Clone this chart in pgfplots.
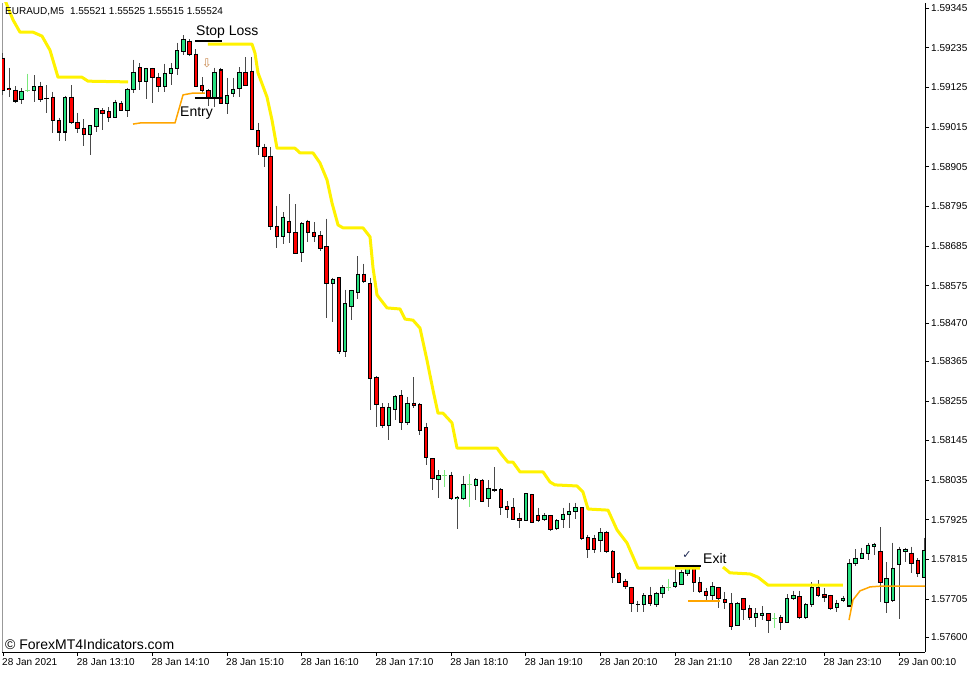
\documentclass[border=0pt]{standalone}
\usepackage{fontspec}
\setmainfont{Liberation Sans}
\newfontfamily\symfont{DejaVu Sans}
\usepackage{pgfplots}
\pgfplotsset{compat=1.18}
\usepackage{pgfplotstable}

\definecolor{bull}{HTML}{26E07F}
\definecolor{bear}{HTML}{FF0000}
\definecolor{doji}{HTML}{7CE87C}
\definecolor{wick}{HTML}{4A4A4A}
\definecolor{ylw}{HTML}{FFF200}
\definecolor{org}{HTML}{FFA500}
\definecolor{arrowc}{HTML}{C8864A}
\definecolor{checkc}{HTML}{1A2550}

\pgfplotsset{candle/.style={only marks, mark options={draw=none, fill=none, mark size=0pt},
  error bars/.cd, y dir=both, y explicit, error mark=none}}

% x = bar index (M5 bars from 28 Jan 12:10), o h l c
\pgfplotstableread{
x o h l c
3 1.59090 1.59123 1.59079 1.59112
5 1.59115 1.59159 1.59084 1.59126
10 1.59001 1.59101 1.58976 1.59098
14 1.58993 1.59020 1.58937 1.59018
15 1.59015 1.59067 1.59001 1.59065
18 1.59042 1.59090 1.59040 1.59084
20 1.59062 1.59123 1.59042 1.59120
21 1.59120 1.59201 1.59109 1.59167
23 1.59142 1.59179 1.59092 1.59176
26 1.59128 1.59190 1.59112 1.59162
27 1.59162 1.59192 1.59131 1.59176
28 1.59176 1.59248 1.59159 1.59226
29 1.59223 1.59270 1.59214 1.59259
34 1.59098 1.59179 1.59070 1.59167
36 1.59079 1.59151 1.59051 1.59101
37 1.59109 1.59151 1.59098 1.59120
38 1.59123 1.59181 1.59098 1.59167
45 1.58712 1.58779 1.58690 1.58765
48 1.58668 1.58751 1.58640 1.58748
53 1.58582 1.58596 1.58474 1.58593
55 1.58391 1.58563 1.58377 1.58524
56 1.58518 1.58563 1.58479 1.58560
57 1.58557 1.58657 1.58538 1.58607
62 1.58188 1.58249 1.58147 1.58238
63 1.58232 1.58271 1.58202 1.58266
65 1.58196 1.58266 1.58188 1.58249
70 1.58038 1.58063 1.57985 1.58047
73 1.57983 1.57990 1.57899 1.57988
74 1.57985 1.58047 1.57980 1.58024
76 1.58019 1.58041 1.57980 1.58038
78 1.57985 1.58035 1.57960 1.58013
84 1.57924 1.57999 1.57922 1.57997
87 1.57927 1.57944 1.57922 1.57936
89 1.57902 1.57927 1.57897 1.57922
90 1.57927 1.57958 1.57902 1.57941
91 1.57941 1.57972 1.57902 1.57947
92 1.57947 1.57972 1.57927 1.57958
96 1.57869 1.57902 1.57836 1.57891
103 1.57689 1.57722 1.57669 1.57714
105 1.57689 1.57725 1.57683 1.57722
106 1.57722 1.57744 1.57708 1.57736
108 1.57739 1.57794 1.57736 1.57750
109 1.57747 1.57786 1.57744 1.57778
110 1.57775 1.57797 1.57769 1.57794
114 1.57714 1.57752 1.57700 1.57739
118 1.57633 1.57697 1.57630 1.57694
121 1.57653 1.57680 1.57628 1.57666
122 1.57661 1.57686 1.57647 1.57666
126 1.57641 1.57719 1.57639 1.57706
127 1.57706 1.57728 1.57703 1.57714
129 1.57653 1.57694 1.57650 1.57691
130 1.57691 1.57752 1.57683 1.57736
134 1.57683 1.57703 1.57669 1.57694
135 1.57700 1.57714 1.57697 1.57708
136 1.57686 1.57816 1.57683 1.57805
137 1.57805 1.57844 1.57797 1.57819
138 1.57819 1.57847 1.57816 1.57833
139 1.57833 1.57861 1.57813 1.57855
140 1.57852 1.57861 1.57827 1.57858
142 1.57697 1.57808 1.57666 1.57761
143 1.57700 1.57861 1.57697 1.57791
144 1.57800 1.57850 1.57650 1.57844
145 1.57836 1.57847 1.57808 1.57844
148 1.57766 1.57875 1.57764 1.57841
}\bull

\pgfplotstableread{
x o h l c
0 1.59206 1.59220 1.59104 1.59117
1 1.59123 1.59179 1.59098 1.59120
2 1.59117 1.59128 1.59081 1.59087
6 1.59126 1.59140 1.59084 1.59090
7 1.59095 1.59131 1.59054 1.59094
8 1.59098 1.59112 1.58998 1.59034
9 1.59034 1.59040 1.58976 1.59001
11 1.59098 1.59131 1.59024 1.59026
12 1.59026 1.59054 1.58998 1.59012
13 1.59012 1.59037 1.58962 1.58993
16 1.59062 1.59067 1.59006 1.59051
17 1.59059 1.59070 1.59029 1.59042
19 1.59081 1.59087 1.59059 1.59062
22 1.59179 1.59192 1.59117 1.59140
24 1.59176 1.59179 1.59081 1.59153
25 1.59151 1.59165 1.59112 1.59128
30 1.59253 1.59259 1.59212 1.59217
31 1.59217 1.59231 1.59126 1.59128
32 1.59131 1.59153 1.59109 1.59115
33 1.59115 1.59120 1.59073 1.59098
35 1.59173 1.59179 1.59079 1.59081
39 1.59167 1.59209 1.59129 1.59131
40 1.59170 1.59209 1.59006 1.59009
41 1.59004 1.59026 1.58937 1.58962
42 1.58959 1.58968 1.58904 1.58934
43 1.58934 1.58959 1.58729 1.58740
44 1.58740 1.58796 1.58679 1.58710
46 1.58754 1.58829 1.58693 1.58721
47 1.58723 1.58801 1.58663 1.58665
49 1.58754 1.58757 1.58696 1.58723
50 1.58723 1.58751 1.58696 1.58712
51 1.58715 1.58726 1.58671 1.58679
52 1.58682 1.58760 1.58485 1.58582
54 1.58596 1.58598 1.58385 1.58391
58 1.58607 1.58635 1.58583 1.58585
59 1.58582 1.58596 1.58230 1.58316
60 1.58321 1.58323 1.58182 1.58244
61 1.58238 1.58249 1.58180 1.58188
64 1.58271 1.58285 1.58174 1.58196
66 1.58249 1.58321 1.58235 1.58241
67 1.58244 1.58249 1.58160 1.58174
68 1.58180 1.58194 1.58077 1.58099
69 1.58094 1.58096 1.58008 1.58041
72 1.58047 1.58058 1.57980 1.57983
77 1.58035 1.58038 1.57974 1.57977
79 1.58008 1.58071 1.58002 1.58006
80 1.58008 1.58013 1.57938 1.57960
81 1.57963 1.57977 1.57930 1.57955
82 1.57958 1.57985 1.57924 1.57927
83 1.57930 1.57944 1.57902 1.57924
85 1.57994 1.57997 1.57917 1.57919
86 1.57938 1.57958 1.57919 1.57922
88 1.57936 1.57938 1.57894 1.57897
93 1.57958 1.57960 1.57869 1.57872
94 1.57875 1.57883 1.57819 1.57844
95 1.57872 1.57883 1.57833 1.57844
97 1.57891 1.57894 1.57833 1.57836
98 1.57838 1.57841 1.57750 1.57766
99 1.57775 1.57780 1.57750 1.57752
100 1.57755 1.57761 1.57733 1.57739
101 1.57736 1.57739 1.57669 1.57694
102 1.57691 1.57700 1.57669 1.57690
104 1.57714 1.57739 1.57686 1.57694
111 1.57797 1.57800 1.57725 1.57752
112 1.57752 1.57766 1.57722 1.57725
113 1.57725 1.57736 1.57703 1.57714
115 1.57736 1.57739 1.57680 1.57706
116 1.57703 1.57725 1.57678 1.57697
117 1.57694 1.57722 1.57619 1.57628
119 1.57706 1.57708 1.57647 1.57675
120 1.57678 1.57689 1.57647 1.57655
123 1.57664 1.57666 1.57611 1.57647
125 1.57653 1.57661 1.57619 1.57641
128 1.57711 1.57728 1.57650 1.57653
131 1.57736 1.57758 1.57711 1.57714
132 1.57717 1.57736 1.57697 1.57711
133 1.57714 1.57717 1.57675 1.57680
141 1.57836 1.57905 1.57697 1.57750
146 1.57833 1.57850 1.57778 1.57805
147 1.57813 1.57819 1.57766 1.57775
}\bear

\pgfplotstableread{
x o h l c
4 1.59115 1.59162 1.59112 1.59115
71 1.58047 1.58063 1.58016 1.58047
75 1.58024 1.58052 1.57960 1.58024
107 1.57736 1.57761 1.57728 1.57736
124 1.57650 1.57666 1.57625 1.57650
}\doji

\begin{document}
\begin{tikzpicture}
\useasboundingbox (-2pt,-20pt) rectangle (975pt,652pt);
\begin{axis}[
  at={(0pt,0pt)}, anchor=south west,
  scale only axis, width=923pt, height=649pt,
  xmin=-0.16, xmax=148.16, ymin=1.575584, ymax=1.593589,
  axis x line*=bottom, axis y line*=right,
  axis line style={black, line width=1pt},
  tick align=outside, major tick length=4pt,
  tick style={black, line width=0.8pt},
  xtick={0,12,...,144},
  xticklabels={28 Jan 2021,28 Jan 13:10,28 Jan 14:10,28 Jan 15:10,28 Jan 16:10,28 Jan 17:10,28 Jan 18:10,28 Jan 19:10,28 Jan 20:10,28 Jan 21:10,28 Jan 22:10,28 Jan 23:10,29 Jan 00:10},
  ytick={1.59345,1.59235,1.59125,1.59015,1.58905,1.58795,1.58685,1.58575,1.58470,1.58365,1.58255,1.58145,1.58035,1.57925,1.57815,1.57705,1.57600},
  yticklabels={1.59345,1.59235,1.59125,1.59015,1.58905,1.58795,1.58685,1.58575,1.58470,1.58365,1.58255,1.58145,1.58035,1.57925,1.57815,1.57705,1.57600},
  ticklabel style={font=\fontsize{10}{12}\selectfont},
  xticklabel style={anchor=north west, inner sep=0pt, xshift=-1pt, yshift=-2pt},
  yticklabel style={anchor=west, inner sep=0pt, xshift=2pt},
  /pgf/number format/assume math mode=true,
]
% left frame line
\draw[gray!80, line width=1pt] (rel axis cs:0,0) -- (rel axis cs:0,1);

% wicks
\addplot[candle, error bar style={wick, line width=1pt}]
  table[x=x, y=h, y error plus expr=0, y error minus expr=\thisrow{h}-\thisrow{l}] {\bull};
\addplot[candle, error bar style={wick, line width=1pt}]
  table[x=x, y=h, y error plus expr=0, y error minus expr=\thisrow{h}-\thisrow{l}] {\bear};
\addplot[candle, error bar style={doji, line width=1pt}]
  table[x=x, y=h, y error plus expr=0, y error minus expr=\thisrow{h}-\thisrow{l}] {\doji};

% bodies: black outline, then fill
\addplot[candle, error bar style={black, line width=4.4pt}]
  table[x=x, y expr=\thisrow{c}+0.000014, y error plus expr=0, y error minus expr=\thisrow{c}-\thisrow{o}+0.000028] {\bull};
\addplot[candle, error bar style={bull, line width=2.4pt}]
  table[x=x, y expr=\thisrow{c}-0.000014, y error plus expr=0, y error minus expr={max(\thisrow{c}-\thisrow{o}-0.000028,0)}] {\bull};
\addplot[candle, error bar style={black, line width=4.4pt}]
  table[x=x, y expr=\thisrow{o}+0.000014, y error plus expr=0, y error minus expr=\thisrow{o}-\thisrow{c}+0.000028] {\bear};
\addplot[candle, error bar style={bear, line width=2.4pt}]
  table[x=x, y expr=\thisrow{o}-0.000014, y error plus expr=0, y error minus expr={max(\thisrow{o}-\thisrow{c}-0.000028,0)}] {\bear};
\addplot[candle, error bar style={doji, line width=5pt}]
  table[x=x, y expr=\thisrow{o}+0.000014, y error plus expr=0, y error minus expr=0.000028] {\doji};

% trailing stop lines
\addplot[ylw, line width=3pt, line join=round] coordinates {
(0.32,1.59367) (1.61,1.59312) (2.73,1.59278) (4.82,1.59278) (6.27,1.59267) (7.55,1.59228)
(8.84,1.59153) (12.69,1.59153) (13.66,1.59142) (20.09,1.59140)};
\addplot[ylw, line width=3pt, line join=round] coordinates {
(32.94,1.59245) (40.01,1.59245) (40.49,1.59220) (40.98,1.59165) (42.42,1.59098) (43.23,1.59034)
(44.03,1.58956) (46.92,1.58956) (47.73,1.58943) (49.82,1.58943) (50.94,1.58915) (52.07,1.58868)
(52.87,1.58804) (53.84,1.58743) (54.64,1.58735) (57.85,1.58735) (58.98,1.58710) (59.46,1.58624)
(60.10,1.58549) (61.71,1.58513) (63.80,1.58510) (64.60,1.58482) (65.88,1.58479) (67.01,1.58457)
(68.13,1.58368) (69.10,1.58285) (69.90,1.58221) (70.71,1.58221) (72.15,1.58194) (72.96,1.58124)
(79.38,1.58124) (80.19,1.58105) (81.15,1.58085) (81.95,1.58085) (83.08,1.58058) (86.78,1.58058)
(87.90,1.58030) (88.70,1.58022) (92.24,1.58019) (93.20,1.58002) (94.01,1.57955) (97.22,1.57952)
(98.67,1.57897) (100.27,1.57861) (102.04,1.57791) (112.00,1.57791)};
\addplot[ylw, line width=3pt, line join=round] coordinates {
(115.70,1.57794) (116.82,1.57778) (120.04,1.57775) (121.32,1.57766) (122.93,1.57744) (134.98,1.57744)};
\addplot[org, line width=1.5pt, line join=round] coordinates {
(20.89,1.59023) (22.02,1.59026) (27.64,1.59026) (28.93,1.59104) (30.53,1.59109) (32.46,1.59109)};
\addplot[org, line width=1.5pt] coordinates {(110.08,1.57700) (115.22,1.57700)};
\addplot[org, line width=1.5pt, line join=round] coordinates {
(135.95,1.57647) (136.59,1.57703) (137.72,1.57728) (139.33,1.57739) (140.93,1.57741) (148.96,1.57741)};

% trade markers
\addplot[black, line width=2pt] coordinates {(30.85,1.59254) (35.19,1.59254)};
\addplot[black, line width=2pt] coordinates {(30.85,1.59095) (35.35,1.59095)};
\addplot[black, line width=2pt] coordinates {(107.99,1.57796) (112.17,1.57796)};

\node[anchor=base west, inner sep=0pt, font=\fontsize{10}{12}\selectfont] at (axis cs:0.32,1.59328)
  {EURAUD,M5\hspace{6pt}1.55521 1.55525 1.55515 1.55524};
\node[anchor=base west, inner sep=0pt, font=\fontsize{14}{16}\selectfont] at (axis cs:31.01,1.59269) {Stop Loss};
\node[anchor=base west, inner sep=0pt, font=\fontsize{14}{16}\selectfont] at (axis cs:28.44,1.59043) {Entry};
\node[anchor=base west, inner sep=0pt, font=\fontsize{14}{16}\selectfont] at (axis cs:112.49,1.57803) {Exit};
\node[inner sep=0pt, text=arrowc, font=\symfont\fontsize{12}{13}\selectfont] at (axis cs:32.78,1.59192) {⇩};
\node[inner sep=0pt, text=checkc, font=\symfont\fontsize{11}{12}\selectfont] at (axis cs:109.92,1.57828) {✓};
\node[anchor=base west, inner sep=0pt, font=\fontsize{14}{16}\selectfont] at (axis cs:0.32,1.57564)
  {© ForexMT4Indicators.com};
\end{axis}
\end{tikzpicture}
\end{document}
